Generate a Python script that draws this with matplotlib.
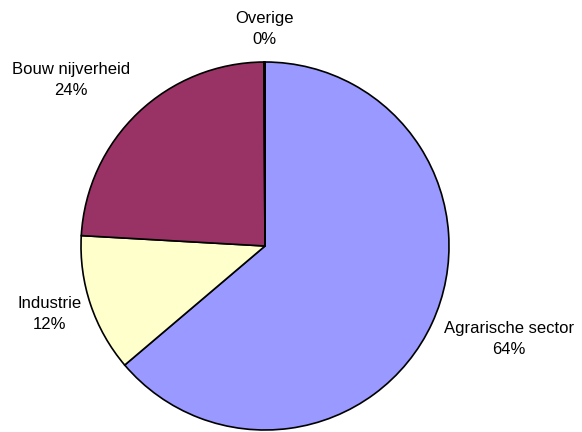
import numpy as np
import matplotlib
matplotlib.use('Agg')
import matplotlib.pyplot as plt

plt.rcParams['font.family'] = ['Liberation Sans', 'DejaVu Sans']

sectors = ['Agrarische sector', 'Industrie', 'Bouw nijverheid', 'Overige']
shares = [63.8, 12.1, 24.0, 0.1]
colors = ['#9999FF', '#FFFFCC', '#993366', '#CCFFFF']

# label radius (in pie radii) and angle nudge per slice
label_r = [1.42, 1.23, 1.39, 1.18]
label_nudge = [4.0, -1.0, 5.9, 0.0]

fig = plt.figure(figsize=(5.82, 4.32), dpi=100)
ax = fig.add_axes([81 / 582, 2 / 432, 368 / 582, 368 / 432])

wedges, _ = ax.pie(shares, colors=colors, startangle=90, counterclock=False,
                   wedgeprops=dict(edgecolor='black', linewidth=1.2))
ax.set_xlim(-1, 1)
ax.set_ylim(-1, 1)
ax.set_aspect('auto')

total = sum(shares)
for w, name, val, r, dn in zip(wedges, sectors, shares, label_r, label_nudge):
    mid = np.deg2rad((w.theta1 + w.theta2) / 2 + dn)
    ax.text(r * np.cos(mid), r * np.sin(mid),
            f"{name}\n{round(val / total * 100):.0f}%",
            ha='center', va='center', fontsize=12, linespacing=1.5,
            clip_on=False)

fig.savefig('out.png', dpi=100)
